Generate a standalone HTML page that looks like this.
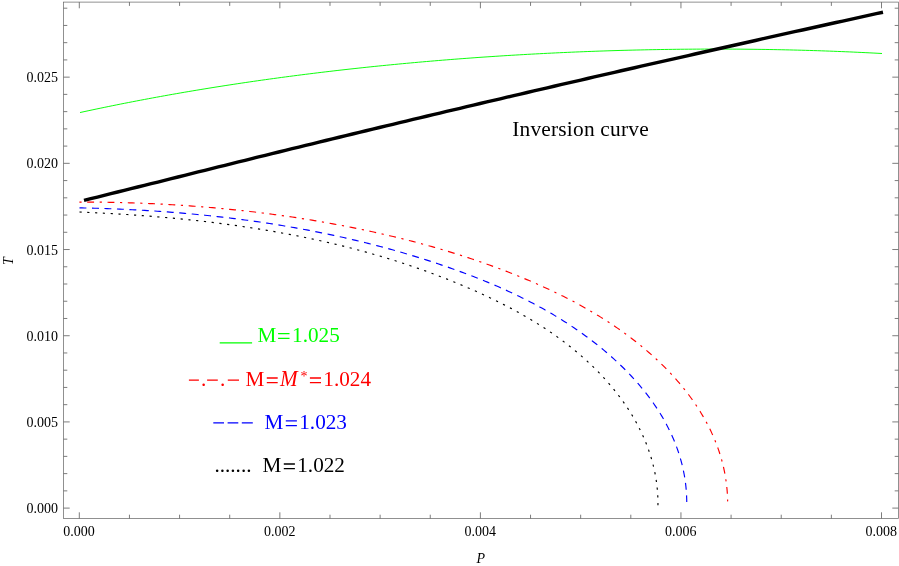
<!DOCTYPE html>
<html><head><meta charset="utf-8"><title>Isenthalpic curves</title>
<style>html,body{margin:0;padding:0;background:#fff;}svg{display:block;will-change:transform;}text{font-family:"Liberation Serif",serif;}</style>
</head><body>
<svg width="899" height="566" viewBox="0 0 899 566">
<path d="M80.00,112.55 L84.03,111.67 L88.06,110.81 L92.09,109.95 L96.12,109.09 L100.15,108.25 L104.18,107.41 L108.21,106.58 L112.24,105.76 L116.27,104.95 L120.30,104.14 L124.33,103.34 L128.36,102.55 L132.39,101.77 L136.42,100.99 L140.45,100.22 L144.48,99.46 L148.51,98.70 L152.54,97.95 L156.57,97.21 L160.60,96.47 L164.63,95.74 L168.66,95.02 L172.69,94.31 L176.72,93.60 L180.75,92.90 L184.78,92.20 L188.81,91.52 L192.84,90.84 L196.87,90.16 L200.90,89.49 L204.93,88.83 L208.96,88.18 L212.99,87.53 L217.03,86.89 L221.06,86.25 L225.09,85.62 L229.12,85.00 L233.15,84.38 L237.18,83.77 L241.21,83.16 L245.24,82.57 L249.27,81.97 L253.30,81.39 L257.33,80.81 L261.36,80.23 L265.39,79.66 L269.42,79.10 L273.45,78.55 L277.48,78.00 L281.51,77.45 L285.54,76.91 L289.57,76.38 L293.60,75.85 L297.63,75.33 L301.66,74.81 L305.69,74.30 L309.72,73.80 L313.75,73.30 L317.78,72.81 L321.81,72.32 L325.84,71.84 L329.87,71.36 L333.90,70.89 L337.93,70.42 L341.96,69.96 L345.99,69.51 L350.02,69.06 L354.05,68.62 L358.08,68.18 L362.11,67.74 L366.14,67.32 L370.17,66.89 L374.20,66.48 L378.23,66.06 L382.26,65.66 L386.29,65.26 L390.32,64.86 L394.35,64.47 L398.38,64.08 L402.41,63.70 L406.44,63.33 L410.47,62.96 L414.50,62.59 L418.53,62.23 L422.56,61.87 L426.59,61.52 L430.62,61.18 L434.65,60.84 L438.68,60.50 L442.71,60.17 L446.74,59.85 L450.77,59.53 L454.80,59.21 L458.83,58.90 L462.86,58.60 L466.89,58.30 L470.92,58.00 L474.95,57.71 L478.98,57.42 L483.02,57.14 L487.05,56.87 L491.08,56.60 L495.11,56.33 L499.14,56.07 L503.17,55.81 L507.20,55.56 L511.23,55.31 L515.26,55.07 L519.29,54.83 L523.32,54.60 L527.35,54.37 L531.38,54.15 L535.41,53.93 L539.44,53.72 L543.47,53.51 L547.50,53.31 L551.53,53.11 L555.56,52.91 L559.59,52.72 L563.62,52.54 L567.65,52.36 L571.68,52.18 L575.71,52.01 L579.74,51.85 L583.77,51.69 L587.80,51.53 L591.83,51.38 L595.86,51.23 L599.89,51.09 L603.92,50.96 L607.95,50.82 L611.98,50.70 L616.01,50.57 L620.04,50.45 L624.07,50.34 L628.10,50.23 L632.13,50.13 L636.16,50.03 L640.19,49.94 L644.22,49.85 L648.25,49.76 L652.28,49.68 L656.31,49.61 L660.34,49.54 L664.37,49.48 L668.40,49.42 L672.43,49.36 L676.46,49.31 L680.49,49.26 L684.52,49.22 L688.55,49.19 L692.58,49.16 L696.61,49.13 L700.64,49.11 L704.67,49.09 L708.70,49.08 L712.73,49.08 L716.76,49.08 L720.79,49.08 L724.82,49.09 L728.85,49.10 L732.88,49.12 L736.91,49.15 L740.94,49.17 L744.97,49.21 L749.01,49.25 L753.04,49.29 L757.07,49.34 L761.10,49.40 L765.13,49.45 L769.16,49.52 L773.19,49.59 L777.22,49.66 L781.25,49.74 L785.28,49.83 L789.31,49.92 L793.34,50.02 L797.37,50.12 L801.40,50.22 L805.43,50.34 L809.46,50.45 L813.49,50.58 L817.52,50.70 L821.55,50.84 L825.58,50.98 L829.61,51.12 L833.64,51.27 L837.67,51.43 L841.70,51.59 L845.73,51.75 L849.76,51.92 L853.79,52.10 L857.82,52.29 L861.85,52.47 L865.88,52.67 L869.91,52.87 L873.94,53.07 L877.97,53.29 L882.00,53.50" fill="none" stroke="#00ff00" stroke-width="0.95"/>
<path d="M79.40,202.05 L81.92,202.05 L84.43,202.05 L86.94,202.06 L89.45,202.07 L91.96,202.09 L94.47,202.11 L96.98,202.13 L99.49,202.16 L102.00,202.19 L104.51,202.23 L107.02,202.27 L109.53,202.31 L112.04,202.36 L114.55,202.41 L117.06,202.47 L119.57,202.53 L122.08,202.59 L124.59,202.66 L127.10,202.73 L129.61,202.81 L132.12,202.89 L134.63,202.97 L137.14,203.06 L139.65,203.15 L142.16,203.25 L144.67,203.35 L147.18,203.46 L149.69,203.56 L152.20,203.68 L154.70,203.79 L157.21,203.92 L159.72,204.04 L162.23,204.17 L164.73,204.30 L167.24,204.44 L169.75,204.59 L172.25,204.73 L174.76,204.88 L177.27,205.04 L179.77,205.20 L182.28,205.36 L184.78,205.53 L187.29,205.70 L189.79,205.88 L192.30,206.06 L194.80,206.25 L197.30,206.44 L199.81,206.63 L202.31,206.83 L204.81,207.03 L207.32,207.24 L209.82,207.45 L212.32,207.67 L214.82,207.89 L217.32,208.12 L219.82,208.35 L222.32,208.58 L224.82,208.82 L227.32,209.06 L229.82,209.31 L232.32,209.57 L234.81,209.82 L237.31,210.09 L239.81,210.35 L242.30,210.62 L244.80,210.90 L247.30,211.18 L249.79,211.47 L252.28,211.76 L254.78,212.05 L257.27,212.35 L259.76,212.66 L262.25,212.96 L264.75,213.28 L267.24,213.60 L269.73,213.92 L272.22,214.25 L274.70,214.58 L277.19,214.92 L279.68,215.26 L282.17,215.61 L284.65,215.96 L287.14,216.32 L289.62,216.68 L292.11,217.05 L294.59,217.42 L297.07,217.80 L299.55,218.18 L302.03,218.57 L304.51,218.96 L306.99,219.36 L309.47,219.76 L311.95,220.17 L314.43,220.58 L316.90,221.00 L319.38,221.42 L321.85,221.85 L324.32,222.28 L326.80,222.72 L329.27,223.16 L331.74,223.61 L334.21,224.06 L336.68,224.52 L339.14,224.99 L341.61,225.45 L344.08,225.93 L346.54,226.41 L349.01,226.89 L351.47,227.38 L353.93,227.88 L356.39,228.38 L358.85,228.89 L361.31,229.40 L363.76,229.91 L366.22,230.44 L368.68,230.96 L371.13,231.50 L373.58,232.03 L376.03,232.58 L378.48,233.13 L380.93,233.68 L383.38,234.24 L385.83,234.81 L388.27,235.38 L390.71,235.96 L393.16,236.54 L395.60,237.13 L398.04,237.72 L400.48,238.32 L402.91,238.93 L405.35,239.54 L407.78,240.16 L410.21,240.78 L412.64,241.41 L415.07,242.04 L417.50,242.69 L419.93,243.33 L422.35,243.99 L424.77,244.65 L427.19,245.32 L429.61,245.99 L432.03,246.67 L434.45,247.36 L436.86,248.05 L439.27,248.75 L441.68,249.45 L444.09,250.17 L446.49,250.88 L448.90,251.61 L451.30,252.34 L453.70,253.08 L456.10,253.83 L458.49,254.58 L460.88,255.34 L463.27,256.11 L465.66,256.88 L468.05,257.66 L470.43,258.45 L472.82,259.25 L475.19,260.05 L477.57,260.86 L479.95,261.68 L482.32,262.50 L484.69,263.33 L487.05,264.17 L489.42,265.02 L491.78,265.87 L494.14,266.74 L496.49,267.61 L498.84,268.48 L501.19,269.37 L503.54,270.26 L505.89,271.16 L508.23,272.07 L510.56,272.98 L512.90,273.90 L515.23,274.83 L517.56,275.77 L519.89,276.72 L522.21,277.67 L524.53,278.63 L526.84,279.61 L529.16,280.58 L531.47,281.57 L533.77,282.57 L536.07,283.57 L538.37,284.59 L540.66,285.61 L542.95,286.64 L545.24,287.68 L547.52,288.73 L549.79,289.79 L552.06,290.86 L554.33,291.94 L556.59,293.03 L558.85,294.13 L561.10,295.24 L563.35,296.36 L565.59,297.49 L567.83,298.63 L570.06,299.79 L572.28,300.95 L574.50,302.12 L576.72,303.31 L578.92,304.50 L581.13,305.71 L583.32,306.93 L585.51,308.16 L587.69,309.41 L589.87,310.66 L592.03,311.93 L594.19,313.21 L596.35,314.50 L598.49,315.80 L600.63,317.12 L602.76,318.45 L604.89,319.79 L607.00,321.14 L609.11,322.51 L611.20,323.89 L613.29,325.28 L615.37,326.69 L617.44,328.11 L619.50,329.54 L621.55,330.99 L623.60,332.45 L625.63,333.93 L627.65,335.41 L629.66,336.92 L631.66,338.43 L633.65,339.96 L635.63,341.51 L637.60,343.07 L639.56,344.64 L641.50,346.23 L643.44,347.83 L645.36,349.45 L647.27,351.08 L649.16,352.73 L651.04,354.39 L652.91,356.06 L654.77,357.75 L656.62,359.46 L658.45,361.18 L660.26,362.91 L662.06,364.66 L663.85,366.43 L665.62,368.20 L667.38,370.00 L669.12,371.81 L670.84,373.63 L672.55,375.47 L674.24,377.33 L675.91,379.20 L677.57,381.09 L679.21,382.99 L680.83,384.91 L682.43,386.84 L684.01,388.79 L685.58,390.76 L687.12,392.74 L688.64,394.74 L690.14,396.75 L691.62,398.78 L693.07,400.83 L694.51,402.89 L695.92,404.96 L697.31,407.06 L698.67,409.16 L700.01,411.29 L701.32,413.43 L702.61,415.58 L703.87,417.76 L705.11,419.94 L706.31,422.14 L707.49,424.36 L708.64,426.59 L709.77,428.84 L710.86,431.10 L711.92,433.37 L712.95,435.66 L713.95,437.96 L714.92,440.28 L715.86,442.61 L716.77,444.95 L717.64,447.31 L718.47,449.67 L719.28,452.05 L720.05,454.44 L720.78,456.85 L721.48,459.26 L722.14,461.68 L722.77,464.11 L723.36,466.55 L723.91,469.00 L724.42,471.46 L724.90,473.92 L725.34,476.39 L725.75,478.87 L726.11,481.36 L726.44,483.85 L726.73,486.34 L726.98,488.84 L727.19,491.34 L727.36,493.85 L727.49,496.35 L727.59,498.86 L727.65,501.37" fill="none" stroke="#ff0000" stroke-width="1.15" stroke-dasharray="2.2 5.6 6.9 5.6"/>
<path d="M79.48,207.85 L81.99,207.90 L84.51,207.95 L87.02,208.01 L89.53,208.07 L92.04,208.14 L94.55,208.21 L97.06,208.28 L99.57,208.36 L102.08,208.44 L104.60,208.52 L107.11,208.61 L109.62,208.70 L112.13,208.80 L114.64,208.90 L117.15,209.00 L119.66,209.11 L122.17,209.22 L124.68,209.34 L127.18,209.46 L129.69,209.58 L132.20,209.71 L134.71,209.84 L137.22,209.97 L139.73,210.11 L142.24,210.26 L144.74,210.40 L147.25,210.56 L149.76,210.71 L152.27,210.87 L154.77,211.04 L157.28,211.21 L159.79,211.38 L162.29,211.56 L164.80,211.74 L167.30,211.92 L169.81,212.11 L172.31,212.31 L174.82,212.51 L177.32,212.71 L179.82,212.92 L182.33,213.13 L184.83,213.35 L187.33,213.57 L189.83,213.79 L192.34,214.02 L194.84,214.26 L197.34,214.50 L199.84,214.74 L202.34,214.99 L204.84,215.24 L207.34,215.50 L209.83,215.77 L212.33,216.03 L214.83,216.30 L217.33,216.58 L219.82,216.86 L222.32,217.15 L224.81,217.44 L227.31,217.74 L229.80,218.04 L232.29,218.35 L234.79,218.66 L237.28,218.97 L239.77,219.29 L242.26,219.62 L244.75,219.95 L247.24,220.29 L249.73,220.63 L252.22,220.97 L254.71,221.33 L257.19,221.68 L259.68,222.04 L262.16,222.41 L264.65,222.78 L267.13,223.16 L269.62,223.54 L272.10,223.93 L274.58,224.32 L277.06,224.72 L279.54,225.12 L282.02,225.53 L284.49,225.95 L286.97,226.37 L289.45,226.79 L291.92,227.22 L294.40,227.66 L296.87,228.10 L299.34,228.55 L301.81,229.00 L304.28,229.46 L306.75,229.92 L309.22,230.39 L311.69,230.87 L314.15,231.35 L316.62,231.83 L319.08,232.32 L321.54,232.82 L324.00,233.32 L326.46,233.83 L328.92,234.35 L331.38,234.87 L333.84,235.40 L336.29,235.93 L338.75,236.47 L341.20,237.01 L343.65,237.56 L346.10,238.11 L348.55,238.68 L351.00,239.24 L353.44,239.82 L355.89,240.40 L358.33,240.98 L360.77,241.57 L363.21,242.17 L365.65,242.77 L368.09,243.38 L370.52,244.00 L372.96,244.62 L375.39,245.25 L377.82,245.88 L380.25,246.52 L382.68,247.17 L385.10,247.82 L387.53,248.48 L389.95,249.15 L392.37,249.82 L394.79,250.49 L397.20,251.18 L399.62,251.87 L402.03,252.56 L404.45,253.27 L406.86,253.98 L409.26,254.69 L411.67,255.41 L414.07,256.14 L416.48,256.88 L418.88,257.62 L421.28,258.37 L423.67,259.12 L426.07,259.88 L428.46,260.65 L430.85,261.42 L433.24,262.20 L435.62,262.99 L438.01,263.78 L440.39,264.58 L442.77,265.39 L445.14,266.20 L447.52,267.02 L449.89,267.85 L452.26,268.68 L454.63,269.52 L456.99,270.37 L459.35,271.23 L461.71,272.09 L464.07,272.96 L466.42,273.84 L468.77,274.73 L471.12,275.63 L473.46,276.53 L475.80,277.44 L478.14,278.36 L480.47,279.29 L482.80,280.23 L485.13,281.18 L487.45,282.14 L489.77,283.10 L492.09,284.08 L494.40,285.06 L496.71,286.05 L499.01,287.06 L501.31,288.07 L503.60,289.09 L505.89,290.13 L508.18,291.17 L510.46,292.22 L512.73,293.29 L515.00,294.36 L517.27,295.45 L519.53,296.54 L521.79,297.65 L524.04,298.77 L526.28,299.90 L528.52,301.04 L530.75,302.19 L532.98,303.35 L535.20,304.53 L537.41,305.71 L539.62,306.91 L541.82,308.12 L544.02,309.34 L546.21,310.58 L548.39,311.82 L550.56,313.08 L552.73,314.35 L554.89,315.63 L557.04,316.93 L559.18,318.24 L561.32,319.56 L563.45,320.89 L565.57,322.24 L567.68,323.60 L569.78,324.98 L571.88,326.36 L573.96,327.76 L576.04,329.18 L578.11,330.60 L580.17,332.04 L582.22,333.50 L584.25,334.97 L586.28,336.45 L588.30,337.94 L590.31,339.45 L592.31,340.97 L594.30,342.51 L596.27,344.06 L598.24,345.62 L600.19,347.20 L602.14,348.80 L604.07,350.40 L605.99,352.02 L607.89,353.66 L609.79,355.30 L611.67,356.97 L613.54,358.65 L615.40,360.34 L617.24,362.04 L619.07,363.77 L620.89,365.50 L622.69,367.25 L624.48,369.02 L626.25,370.80 L628.00,372.60 L629.74,374.41 L631.46,376.24 L633.17,378.08 L634.86,379.94 L636.53,381.82 L638.18,383.71 L639.82,385.62 L641.44,387.54 L643.03,389.48 L644.61,391.43 L646.17,393.41 L647.70,395.39 L649.22,397.40 L650.71,399.42 L652.18,401.45 L653.63,403.51 L655.05,405.58 L656.45,407.66 L657.83,409.76 L659.18,411.88 L660.51,414.02 L661.81,416.17 L663.08,418.33 L664.32,420.51 L665.54,422.71 L666.73,424.92 L667.89,427.15 L669.02,429.39 L670.12,431.65 L671.19,433.93 L672.23,436.21 L673.24,438.51 L674.21,440.83 L675.15,443.16 L676.06,445.50 L676.94,447.86 L677.78,450.22 L678.58,452.60 L679.35,454.99 L680.09,457.40 L680.78,459.81 L681.44,462.23 L682.07,464.67 L682.65,467.11 L683.20,469.56 L683.71,472.02 L684.18,474.49 L684.61,476.96 L685.00,479.45 L685.35,481.93 L685.67,484.43 L685.94,486.92 L686.17,489.42 L686.37,491.93 L686.52,494.44 L686.63,496.95 L686.71,499.46 L686.74,501.97" fill="none" stroke="#0000ff" stroke-width="1.15" stroke-dasharray="6.9 5.59"/>
<path d="M79.46,212.02 L81.97,212.13 L84.49,212.24 L87.00,212.35 L89.51,212.46 L92.02,212.58 L94.54,212.70 L97.05,212.82 L99.56,212.95 L102.07,213.08 L104.58,213.21 L107.10,213.35 L109.61,213.49 L112.12,213.63 L114.63,213.77 L117.14,213.92 L119.65,214.08 L122.16,214.23 L124.67,214.39 L127.18,214.55 L129.69,214.72 L132.20,214.89 L134.71,215.06 L137.22,215.24 L139.73,215.42 L142.24,215.61 L144.75,215.80 L147.25,215.99 L149.76,216.18 L152.27,216.38 L154.78,216.59 L157.28,216.80 L159.79,217.01 L162.30,217.22 L164.80,217.44 L167.31,217.67 L169.81,217.90 L172.32,218.13 L174.82,218.36 L177.32,218.60 L179.83,218.85 L182.33,219.10 L184.83,219.35 L187.34,219.61 L189.84,219.87 L192.34,220.14 L194.84,220.41 L197.34,220.68 L199.84,220.96 L202.34,221.25 L204.84,221.54 L207.34,221.83 L209.83,222.13 L212.33,222.43 L214.83,222.74 L217.32,223.05 L219.82,223.37 L222.31,223.69 L224.81,224.02 L227.30,224.35 L229.79,224.69 L232.28,225.03 L234.78,225.38 L237.27,225.73 L239.76,226.09 L242.24,226.45 L244.73,226.82 L247.22,227.19 L249.71,227.57 L252.19,227.95 L254.68,228.34 L257.16,228.73 L259.65,229.13 L262.13,229.54 L264.61,229.95 L267.09,230.36 L269.57,230.78 L272.05,231.21 L274.53,231.64 L277.00,232.08 L279.48,232.53 L281.96,232.98 L284.43,233.43 L286.90,233.89 L289.37,234.36 L291.84,234.83 L294.31,235.31 L296.78,235.80 L299.25,236.29 L301.71,236.78 L304.18,237.28 L306.64,237.79 L309.10,238.31 L311.57,238.83 L314.02,239.36 L316.48,239.89 L318.94,240.43 L321.39,240.98 L323.85,241.53 L326.30,242.09 L328.75,242.65 L331.20,243.22 L333.65,243.80 L336.10,244.39 L338.54,244.98 L340.98,245.58 L343.43,246.18 L345.87,246.79 L348.30,247.41 L350.74,248.03 L353.18,248.66 L355.61,249.30 L358.04,249.95 L360.47,250.60 L362.90,251.26 L365.32,251.92 L367.75,252.60 L370.17,253.28 L372.59,253.96 L375.01,254.66 L377.42,255.36 L379.84,256.06 L382.25,256.78 L384.66,257.50 L387.06,258.23 L389.47,258.97 L391.87,259.71 L394.27,260.46 L396.67,261.22 L399.07,261.99 L401.46,262.76 L403.85,263.54 L406.24,264.33 L408.63,265.13 L411.01,265.93 L413.39,266.74 L415.77,267.56 L418.14,268.38 L420.52,269.22 L422.89,270.06 L425.26,270.91 L427.62,271.77 L429.98,272.63 L432.34,273.50 L434.70,274.38 L437.05,275.27 L439.40,276.17 L441.75,277.07 L444.09,277.98 L446.43,278.90 L448.77,279.83 L451.11,280.77 L453.44,281.71 L455.77,282.66 L458.09,283.62 L460.41,284.59 L462.73,285.56 L465.05,286.55 L467.36,287.54 L469.67,288.54 L471.97,289.55 L474.27,290.57 L476.57,291.59 L478.86,292.63 L481.15,293.67 L483.44,294.72 L485.72,295.78 L487.99,296.85 L490.26,297.93 L492.53,299.02 L494.79,300.12 L497.05,301.23 L499.30,302.36 L501.55,303.49 L503.79,304.63 L506.02,305.78 L508.25,306.94 L510.48,308.12 L512.70,309.31 L514.91,310.50 L517.11,311.71 L519.31,312.93 L521.51,314.17 L523.69,315.41 L525.87,316.67 L528.04,317.94 L530.20,319.22 L532.36,320.52 L534.51,321.83 L536.65,323.15 L538.78,324.49 L540.90,325.83 L543.02,327.20 L545.12,328.57 L547.22,329.96 L549.31,331.37 L551.38,332.79 L553.45,334.22 L555.51,335.66 L557.56,337.13 L559.59,338.60 L561.62,340.09 L563.63,341.60 L565.64,343.12 L567.63,344.66 L569.61,346.21 L571.57,347.78 L573.53,349.36 L575.47,350.96 L577.40,352.57 L579.32,354.20 L581.22,355.84 L583.11,357.50 L584.99,359.18 L586.85,360.87 L588.69,362.58 L590.52,364.31 L592.34,366.05 L594.14,367.80 L595.93,369.58 L597.69,371.36 L599.45,373.17 L601.18,374.99 L602.90,376.82 L604.60,378.68 L606.29,380.55 L607.95,382.43 L609.60,384.33 L611.23,386.25 L612.84,388.18 L614.42,390.13 L615.99,392.10 L617.54,394.08 L619.07,396.08 L620.58,398.09 L622.06,400.12 L623.52,402.17 L624.96,404.23 L626.38,406.31 L627.77,408.41 L629.14,410.52 L630.48,412.64 L631.80,414.79 L633.09,416.95 L634.36,419.12 L635.60,421.31 L636.81,423.51 L637.99,425.73 L639.15,427.97 L640.27,430.22 L641.37,432.48 L642.44,434.76 L643.47,437.05 L644.48,439.36 L645.45,441.68 L646.39,444.01 L647.29,446.36 L648.17,448.71 L649.01,451.09 L649.81,453.47 L650.58,455.86 L651.31,458.27 L652.01,460.69 L652.67,463.11 L653.29,465.55 L653.88,468.00 L654.43,470.45 L654.94,472.91 L655.41,475.39 L655.84,477.86 L656.23,480.35 L656.58,482.84 L656.90,485.33 L657.17,487.83 L657.40,490.34 L657.60,492.85 L657.75,495.36 L657.86,497.87 L657.93,500.38 L657.96,502.90 L657.95,505.42" fill="none" stroke="#000000" stroke-width="1.15" stroke-dasharray="2.2 5.6"/>
<path d="M84.00,200.40 L90.71,198.72 L97.43,197.04 L104.14,195.36 L110.86,193.69 L117.57,192.02 L124.29,190.35 L131.00,188.68 L137.71,187.02 L144.43,185.36 L151.14,183.70 L157.86,182.04 L164.57,180.38 L171.29,178.69 L178.00,177.01 L184.71,175.33 L191.43,173.65 L198.14,171.97 L204.86,170.29 L211.57,168.62 L218.29,166.95 L225.00,165.28 L231.71,163.61 L238.43,161.95 L245.14,160.28 L251.86,158.62 L258.57,156.97 L265.29,155.31 L272.00,153.66 L278.71,152.01 L285.43,150.36 L292.14,148.71 L298.86,147.07 L305.57,145.42 L312.29,143.78 L319.00,142.15 L325.71,140.51 L332.43,138.88 L339.14,137.25 L345.86,135.62 L352.57,133.99 L359.29,132.37 L366.00,130.75 L372.71,129.13 L379.43,127.51 L386.14,125.90 L392.86,124.28 L399.57,122.67 L406.29,121.06 L413.00,119.46 L419.71,117.85 L426.43,116.25 L433.14,114.65 L439.86,113.06 L446.57,111.46 L453.29,109.87 L460.00,108.28 L466.71,106.69 L473.43,105.10 L480.14,103.52 L486.86,101.94 L493.57,100.36 L500.29,98.78 L507.00,97.21 L513.71,95.64 L520.43,94.07 L527.14,92.50 L533.86,90.93 L540.57,89.37 L547.29,87.81 L554.00,86.25 L560.71,84.69 L567.43,83.14 L574.14,81.59 L580.86,80.04 L587.57,78.49 L594.29,76.94 L601.00,75.40 L607.71,73.86 L614.43,72.32 L621.14,70.78 L627.86,69.25 L634.57,67.72 L641.29,66.19 L648.00,64.66 L654.71,63.14 L661.43,61.61 L668.14,60.09 L674.86,58.57 L681.57,57.06 L688.29,55.54 L695.00,54.03 L701.71,52.52 L708.43,51.02 L715.14,49.51 L721.86,48.01 L728.57,46.51 L735.29,45.00 L742.00,43.49 L748.71,41.98 L755.43,40.47 L762.14,38.96 L768.86,37.46 L775.57,35.95 L782.29,34.45 L789.00,32.96 L795.71,31.46 L802.43,29.97 L809.14,28.48 L815.86,26.99 L822.57,25.50 L829.29,24.02 L836.00,22.53 L842.71,21.05 L849.43,19.57 L856.14,18.10 L862.86,16.63 L869.57,15.15 L876.29,13.69 L883.00,12.22" fill="none" stroke="#000" stroke-width="3.4"/>
<rect x="63.5" y="2.1" width="835.00" height="516.40" fill="none" stroke="#666" stroke-width="0.72"/>
<path d="M79.30,518.5v-6.2M79.30,2.1v6.2M129.44,518.5v-3.8M129.44,2.1v3.8M179.57,518.5v-3.8M179.57,2.1v3.8M229.71,518.5v-3.8M229.71,2.1v3.8M279.85,518.5v-6.2M279.85,2.1v6.2M329.99,518.5v-3.8M329.99,2.1v3.8M380.12,518.5v-3.8M380.12,2.1v3.8M430.26,518.5v-3.8M430.26,2.1v3.8M480.40,518.5v-6.2M480.40,2.1v6.2M530.54,518.5v-3.8M530.54,2.1v3.8M580.67,518.5v-3.8M580.67,2.1v3.8M630.81,518.5v-3.8M630.81,2.1v3.8M680.95,518.5v-6.2M680.95,2.1v6.2M731.09,518.5v-3.8M731.09,2.1v3.8M781.23,518.5v-3.8M781.23,2.1v3.8M831.36,518.5v-3.8M831.36,2.1v3.8M881.50,518.5v-6.2M881.50,2.1v6.2M63.5,508.10h6.2M898.5,508.10h-6.2M63.5,490.86h3.8M898.5,490.86h-3.8M63.5,473.62h3.8M898.5,473.62h-3.8M63.5,456.39h3.8M898.5,456.39h-3.8M63.5,439.15h3.8M898.5,439.15h-3.8M63.5,421.91h6.2M898.5,421.91h-6.2M63.5,404.67h3.8M898.5,404.67h-3.8M63.5,387.43h3.8M898.5,387.43h-3.8M63.5,370.20h3.8M898.5,370.20h-3.8M63.5,352.96h3.8M898.5,352.96h-3.8M63.5,335.72h6.2M898.5,335.72h-6.2M63.5,318.48h3.8M898.5,318.48h-3.8M63.5,301.24h3.8M898.5,301.24h-3.8M63.5,284.01h3.8M898.5,284.01h-3.8M63.5,266.77h3.8M898.5,266.77h-3.8M63.5,249.53h6.2M898.5,249.53h-6.2M63.5,232.29h3.8M898.5,232.29h-3.8M63.5,215.05h3.8M898.5,215.05h-3.8M63.5,197.82h3.8M898.5,197.82h-3.8M63.5,180.58h3.8M898.5,180.58h-3.8M63.5,163.34h6.2M898.5,163.34h-6.2M63.5,146.10h3.8M898.5,146.10h-3.8M63.5,128.86h3.8M898.5,128.86h-3.8M63.5,111.63h3.8M898.5,111.63h-3.8M63.5,94.39h3.8M898.5,94.39h-3.8M63.5,77.15h6.2M898.5,77.15h-6.2M63.5,59.91h3.8M898.5,59.91h-3.8M63.5,42.67h3.8M898.5,42.67h-3.8M63.5,25.44h3.8M898.5,25.44h-3.8M63.5,8.20h3.8M898.5,8.20h-3.8" fill="none" stroke="#666" stroke-width="0.85"/>
<g font-family="Liberation Serif, serif" font-size="14.0" fill="#000">
<text x="79.10" y="535.5" text-anchor="middle">0.000</text>
<text x="279.65" y="535.5" text-anchor="middle">0.002</text>
<text x="480.20" y="535.5" text-anchor="middle">0.004</text>
<text x="680.75" y="535.5" text-anchor="middle">0.006</text>
<text x="881.30" y="535.5" text-anchor="middle">0.008</text>
<text x="58.1" y="513.20" text-anchor="end">0.000</text>
<text x="58.1" y="427.01" text-anchor="end">0.005</text>
<text x="58.1" y="340.82" text-anchor="end">0.010</text>
<text x="58.1" y="254.63" text-anchor="end">0.015</text>
<text x="58.1" y="168.44" text-anchor="end">0.020</text>
<text x="58.1" y="82.25" text-anchor="end">0.025</text>
<text x="480.9" y="563.0" text-anchor="middle" font-style="italic">P</text>
<text transform="translate(12.6,261.2) rotate(-90)" text-anchor="middle" font-style="italic">T</text>
</g>
<g font-family="Liberation Serif, serif" font-size="21.2">
<text x="512.2" y="135.9" fill="#000" font-size="21.4" letter-spacing="0.2">Inversion curve</text>
<path d="M219.7,342.9H252.1" stroke="#00ff00" stroke-width="1.1"/>
<text y="341.5" fill="#00ff00"><tspan x="257.50">M</tspan><tspan x="292.05">1.025</tspan></text>
<path d="M278.10,333.70H289.50M278.10,338.40H289.50" stroke="#00ff00" stroke-width="1.3" fill="none"/>
<path d="M188.9,380H198.9M207.1,380H217.8M227.8,380H239" stroke="#ff0000" stroke-width="1.25"/>
<text y="385.8" fill="#ff0000"><tspan x="200.9">.</tspan><tspan x="219.9">.</tspan><tspan x="245.50">M</tspan><tspan x="300.6" dy="-5.2" font-size="14.0">*</tspan><tspan x="323.35" dy="5.2">1.024</tspan></text>
<text transform="translate(280.0,385.8) scale(1,1.07)" fill="#ff0000" font-style="italic">M</text>
<path d="M266.80,378.00H277.70M266.80,382.70H277.70" stroke="#ff0000" stroke-width="1.3" fill="none"/>
<path d="M309.90,378.00H321.00M309.90,382.70H321.00" stroke="#ff0000" stroke-width="1.3" fill="none"/>
<path d="M213.3,422.8H224M227.6,422.8H238.3M241.8,422.8H252.8" stroke="#0000ff" stroke-width="1.25"/>
<text y="428.7" fill="#0000ff"><tspan x="264.50">M</tspan><tspan x="299.25">1.023</tspan></text>
<path d="M285.80,420.90H296.90M285.80,425.60H296.90" stroke="#0000ff" stroke-width="1.3" fill="none"/>
<text y="471.8" fill="#000"><tspan x="214.4">.......</tspan><tspan x="262.50">M</tspan><tspan x="297.25">1.022</tspan></text>
<path d="M283.80,464.00H294.90M283.80,468.70H294.90" stroke="#000" stroke-width="1.3" fill="none"/>
</g>
</svg>
</body></html>
